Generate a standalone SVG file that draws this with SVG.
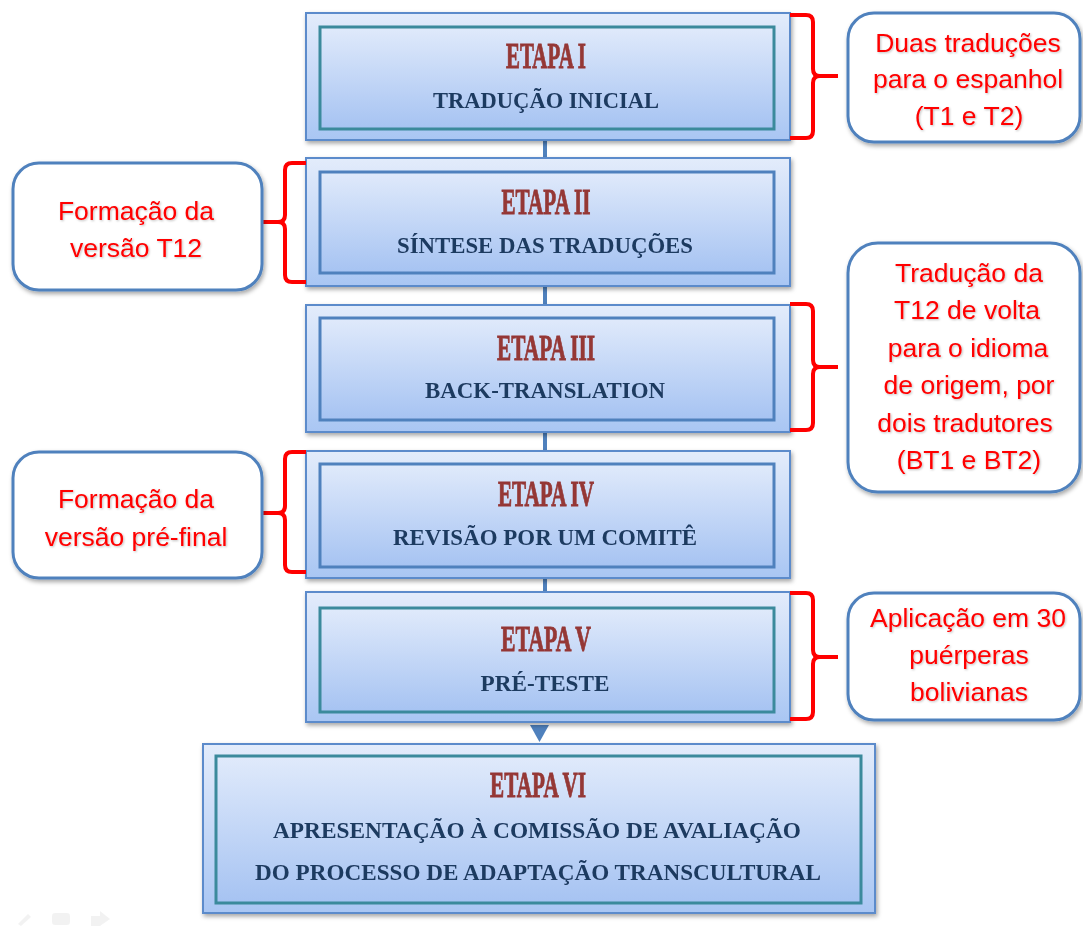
<svg xmlns="http://www.w3.org/2000/svg" width="1083" height="926" viewBox="0 0 1083 926">
<defs>
<linearGradient id="gOut" x1="0" y1="0" x2="0" y2="1">
<stop offset="0" stop-color="#e3ecfb"/>
<stop offset="1" stop-color="#a9c6f3"/>
</linearGradient>
<linearGradient id="gIn" x1="0" y1="0" x2="0" y2="1">
<stop offset="0" stop-color="#e0eafb"/>
<stop offset="1" stop-color="#a6c3f2"/>
</linearGradient>
<filter id="sh" x="-5%" y="-10%" width="115%" height="130%">
<feDropShadow dx="1.5" dy="2.5" stdDeviation="2" flood-color="#000" flood-opacity="0.35"/>
</filter>
<filter id="tg" x="-10%" y="-20%" width="120%" height="140%">
<feDropShadow dx="1" dy="1" stdDeviation="1" flood-color="#000" flood-opacity="0.25"/>
</filter>
</defs>
<style>
.outer{fill:url(#gOut);stroke:#5b8bcb;stroke-width:2}
.inner{fill:url(#gIn);stroke-width:3}
.teal{stroke:#3a8a9c}
.blue{stroke:#4f81bd}
.etapa{font-family:"Liberation Serif",serif;font-weight:bold;font-size:36px;fill:#953735;stroke:#953735;stroke-width:0.9;text-anchor:middle}
.sub{font-family:"Liberation Serif",serif;font-weight:bold;font-size:23px;fill:#1f3a60;text-anchor:middle}
.call{fill:#fff;stroke:#4f81bd;stroke-width:3}
.red{font-family:"Liberation Sans",Arial,sans-serif;font-size:26.5px;fill:#ff0000;text-anchor:middle}
.brace{fill:none;stroke:#ff0000;stroke-width:4;stroke-linejoin:round}
.conn{stroke:#4f81bd;stroke-width:4;fill:none}
</style>
<rect width="1083" height="926" fill="#ffffff"/>

<g id="connectors">
<line class="conn" x1="545" y1="139" x2="545" y2="159"/>
<line class="conn" x1="545" y1="285" x2="545" y2="305"/>
<line class="conn" x1="545" y1="431" x2="545" y2="451"/>
<line class="conn" x1="545" y1="577" x2="545" y2="593"/>
<polygon points="530,725 549,725 539.5,742" fill="#4f81bd"/>
</g>

<g id="etapa1" filter="url(#sh)">
<rect class="outer" x="306" y="13" width="484" height="127"/>
<rect class="inner teal" x="320" y="27" width="454" height="102"/>
<text class="etapa" x="546" y="68" textLength="80" lengthAdjust="spacingAndGlyphs">ETAPA I</text>
<text class="sub" x="546" y="108" textLength="226" lengthAdjust="spacingAndGlyphs">TRADUÇÃO INICIAL</text>
</g>

<g id="etapa2" filter="url(#sh)">
<rect class="outer" x="306" y="158" width="484" height="128"/>
<rect class="inner blue" x="320" y="172" width="454" height="101"/>
<text class="etapa" x="546" y="214" textLength="89" lengthAdjust="spacingAndGlyphs">ETAPA II</text>
<text class="sub" x="545" y="253" textLength="296" lengthAdjust="spacingAndGlyphs">SÍNTESE DAS TRADUÇÕES</text>
</g>

<g id="etapa3" filter="url(#sh)">
<rect class="outer" x="306" y="305" width="484" height="127"/>
<rect class="inner blue" x="320" y="318" width="454" height="102"/>
<text class="etapa" x="546" y="360" textLength="98" lengthAdjust="spacingAndGlyphs">ETAPA III</text>
<text class="sub" x="545" y="398" textLength="240" lengthAdjust="spacingAndGlyphs">BACK-TRANSLATION</text>
</g>

<g id="etapa4" filter="url(#sh)">
<rect class="outer" x="306" y="451" width="484" height="127"/>
<rect class="inner blue" x="320" y="464" width="454" height="103"/>
<text class="etapa" x="546" y="506" textLength="96" lengthAdjust="spacingAndGlyphs">ETAPA IV</text>
<text class="sub" x="545" y="545" textLength="304" lengthAdjust="spacingAndGlyphs">REVISÃO POR UM COMITÊ</text>
</g>

<g id="etapa5" filter="url(#sh)">
<rect class="outer" x="306" y="592" width="484" height="130"/>
<rect class="inner teal" x="320" y="608" width="454" height="104"/>
<text class="etapa" x="546" y="651" textLength="90" lengthAdjust="spacingAndGlyphs">ETAPA V</text>
<text class="sub" x="545" y="691" textLength="129" lengthAdjust="spacingAndGlyphs">PRÉ-TESTE</text>
</g>

<g id="etapa6" filter="url(#sh)">
<rect class="outer" x="203" y="744" width="672" height="169"/>
<rect class="inner teal" x="216" y="756" width="645" height="147"/>
<text class="etapa" x="538" y="797" textLength="96" lengthAdjust="spacingAndGlyphs">ETAPA VI</text>
<text class="sub" x="537" y="838" textLength="528" lengthAdjust="spacingAndGlyphs">APRESENTAÇÃO À COMISSÃO DE AVALIAÇÃO</text>
<text class="sub" x="538" y="880" textLength="566" lengthAdjust="spacingAndGlyphs">DO PROCESSO DE ADAPTAÇÃO TRANSCULTURAL</text>
</g>

<g id="braces">
<path class="brace" d="M790,15 H806 Q813,15 813,22 V69 Q813,76 820,76 H838 M820,76 Q813,76 813,83 V131 Q813,138 806,138 H790"/>
<path class="brace" d="M306,163 H292 Q285,163 285,170 V215 Q285,222 278,222 H258 M278,222 Q285,222 285,229 V275 Q285,282 292,282 H306"/>
<path class="brace" d="M790,304 H806 Q813,304 813,311 V360 Q813,367 820,367 H838 M820,367 Q813,367 813,374 V423 Q813,430 806,430 H790"/>
<path class="brace" d="M306,452 H292 Q285,452 285,459 V506 Q285,513 278,513 H258 M278,513 Q285,513 285,520 V565 Q285,572 292,572 H306"/>
<path class="brace" d="M790,593 H806 Q813,593 813,600 V650 Q813,657 820,657 H838 M820,657 Q813,657 813,664 V712 Q813,719 806,719 H790"/>
</g>

<g id="note1" filter="url(#sh)">
<rect class="call" x="848" y="13" width="232" height="129" rx="26"/>
<g filter="url(#tg)">
<text class="red" x="968" y="52">Duas traduções</text>
<text class="red" x="968" y="88">para o espanhol</text>
<text class="red" x="969" y="125">(T1 e T2)</text>
</g>
</g>

<g id="note2" filter="url(#sh)">
<rect class="call" x="13" y="163" width="249" height="127" rx="26"/>
<g filter="url(#tg)">
<text class="red" x="136" y="220">Formação da</text>
<text class="red" x="136" y="257">versão T12</text>
</g>
</g>

<g id="note3" filter="url(#sh)">
<rect class="call" x="848" y="243" width="232" height="249" rx="30"/>
<g filter="url(#tg)">
<text class="red" x="969" y="282">Tradução da</text>
<text class="red" x="967" y="319">T12 de volta</text>
<text class="red" x="968" y="357">para o idioma</text>
<text class="red" x="969" y="394">de origem, por</text>
<text class="red" x="965" y="432">dois tradutores</text>
<text class="red" x="969" y="469">(BT1 e BT2)</text>
</g>
</g>

<g id="note4" filter="url(#sh)">
<rect class="call" x="13" y="452" width="249" height="126" rx="26"/>
<g filter="url(#tg)">
<text class="red" x="136" y="508">Formação da</text>
<text class="red" x="136" y="546">versão pré-final</text>
</g>
</g>

<g id="note5" filter="url(#sh)">
<rect class="call" x="848" y="593" width="232" height="127" rx="26"/>
<g filter="url(#tg)">
<text class="red" x="968" y="627">Aplicação em 30</text>
<text class="red" x="969" y="664">puérperas</text>
<text class="red" x="969" y="701">bolivianas</text>
</g>
</g>

<g id="slide-controls" opacity="0.35" fill="#dcdcdc">
<polygon points="18,924 28,914 31,917 21,926"/>
<rect x="52" y="913" width="18" height="12" rx="3"/>
<polygon points="91,916 100,916 100,911 110,919 100,926 91,926"/>
</g>
</svg>
